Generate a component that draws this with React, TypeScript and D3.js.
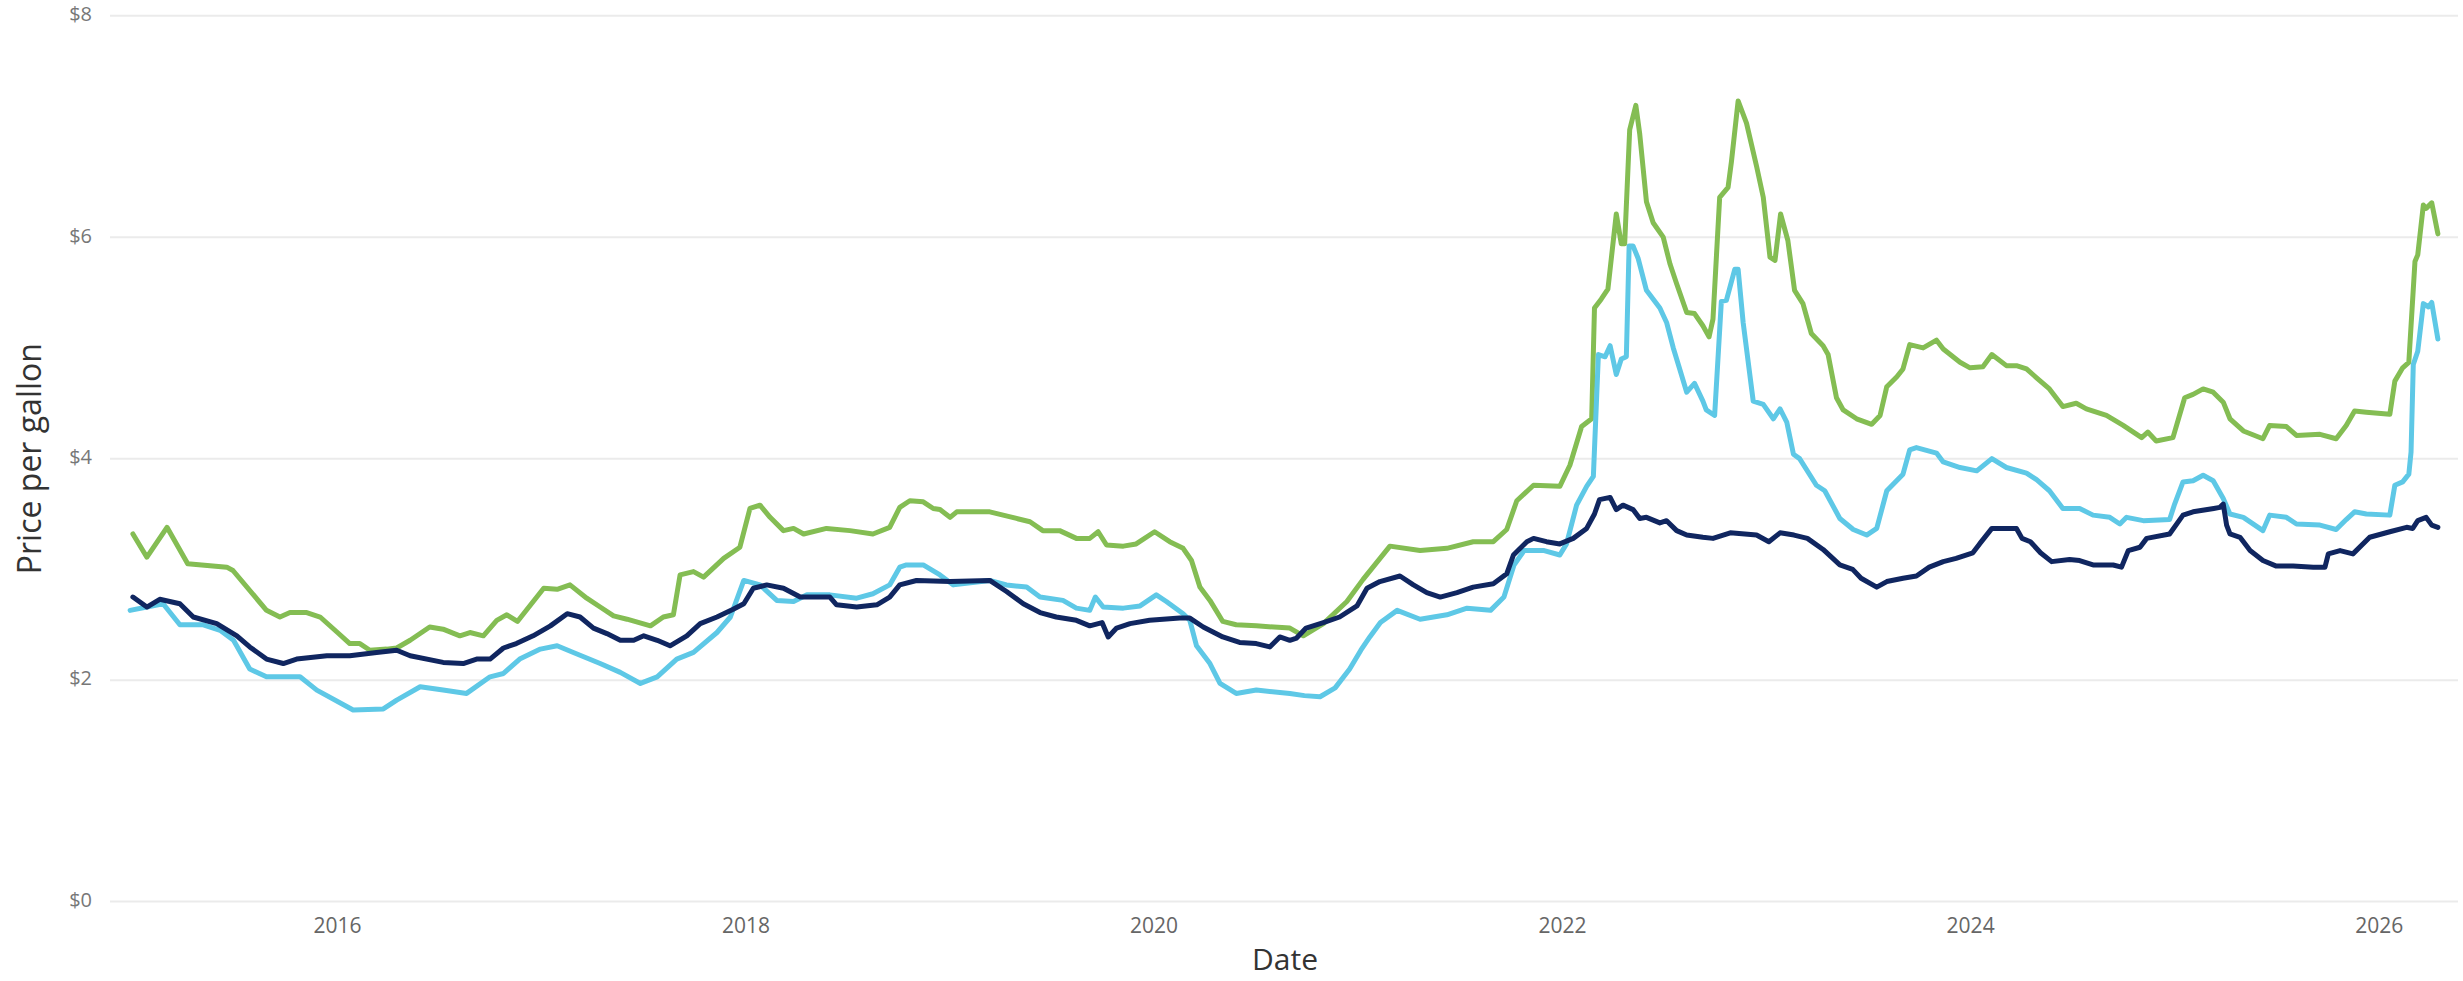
import React from "react";
import * as d3 from "d3";

const WIDTH = 2463;
const HEIGHT = 981;
const PLOT = { LEFT: 110, RIGHT: 2458, TOP: 15.7, BOTTOM: 901.6 };

// weekly price readings, [date, $/gal]
const greenPrices: [string, number][] = [
  ["2014-12-31", 3.32], ["2015-01-25", 3.11], ["2015-03-02", 3.38], ["2015-04-08", 3.05],
  ["2015-06-17", 3.02], ["2015-06-28", 2.99], ["2015-08-27", 2.63], ["2015-09-20", 2.57],
  ["2015-10-08", 2.61], ["2015-11-07", 2.61], ["2015-12-01", 2.57], ["2016-01-01", 2.43],
  ["2016-01-23", 2.33], ["2016-02-10", 2.33], ["2016-02-28", 2.27], ["2016-03-29", 2.28],
  ["2016-04-16", 2.29], ["2016-05-10", 2.36], ["2016-06-14", 2.48], ["2016-07-08", 2.46],
  ["2016-08-07", 2.40], ["2016-08-25", 2.43], ["2016-09-18", 2.40], ["2016-10-12", 2.54],
  ["2016-10-30", 2.59], ["2016-11-18", 2.53], ["2017-01-04", 2.83], ["2017-01-28", 2.82],
  ["2017-02-20", 2.86], ["2017-03-22", 2.74], ["2017-04-15", 2.66], ["2017-05-09", 2.58],
  ["2017-06-02", 2.55], ["2017-07-14", 2.49], ["2017-08-06", 2.57], ["2017-08-24", 2.59],
  ["2017-09-05", 2.95], ["2017-09-29", 2.98], ["2017-10-17", 2.93], ["2017-11-22", 3.10],
  ["2017-12-21", 3.20], ["2018-01-08", 3.55], ["2018-01-26", 3.58], ["2018-02-13", 3.47],
  ["2018-03-09", 3.35], ["2018-03-27", 3.37], ["2018-04-14", 3.32], ["2018-05-25", 3.37],
  ["2018-07-06", 3.35], ["2018-08-16", 3.32], ["2018-09-15", 3.38], ["2018-10-03", 3.56],
  ["2018-10-21", 3.62], ["2018-11-14", 3.61], ["2018-12-02", 3.55], ["2018-12-14", 3.54],
  ["2019-01-01", 3.47], ["2019-01-13", 3.52], ["2019-03-13", 3.52], ["2019-04-30", 3.46],
  ["2019-05-24", 3.43], ["2019-06-16", 3.35], ["2019-07-16", 3.35], ["2019-08-15", 3.28],
  ["2019-09-08", 3.28], ["2019-09-23", 3.34], ["2019-10-08", 3.22], ["2019-11-07", 3.21],
  ["2019-11-30", 3.23], ["2020-01-02", 3.34], ["2020-01-29", 3.25], ["2020-02-22", 3.19],
  ["2020-03-08", 3.08], ["2020-03-23", 2.84], ["2020-04-10", 2.72], ["2020-05-03", 2.53],
  ["2020-05-27", 2.50], ["2020-07-02", 2.49], ["2020-08-31", 2.47], ["2020-09-24", 2.40],
  ["2020-10-30", 2.51], ["2020-12-11", 2.71], ["2021-01-09", 2.91], ["2021-02-26", 3.21],
  ["2021-04-21", 3.17], ["2021-06-08", 3.19], ["2021-07-25", 3.25], ["2021-08-30", 3.25],
  ["2021-09-23", 3.36], ["2021-10-11", 3.62], ["2021-11-10", 3.76], ["2021-12-27", 3.75],
  ["2022-01-14", 3.94], ["2022-02-04", 4.29], ["2022-02-22", 4.36], ["2022-02-27", 5.36],
  ["2022-03-11", 5.44], ["2022-03-23", 5.53], ["2022-04-07", 6.21], ["2022-04-16", 5.94],
  ["2022-04-22", 5.94], ["2022-05-01", 6.97], ["2022-05-12", 7.19], ["2022-05-19", 6.93],
  ["2022-05-31", 6.32], ["2022-06-12", 6.13], ["2022-06-30", 6.00], ["2022-07-12", 5.76],
  ["2022-07-24", 5.58], ["2022-08-11", 5.32], ["2022-08-25", 5.31], ["2022-09-09", 5.20],
  ["2022-09-20", 5.10], ["2022-09-27", 5.26], ["2022-10-09", 6.36], ["2022-10-24", 6.45],
  ["2022-10-30", 6.68], ["2022-11-11", 7.23], ["2022-11-26", 7.03], ["2022-12-14", 6.64],
  ["2022-12-26", 6.36], ["2023-01-07", 5.82], ["2023-01-16", 5.79], ["2023-01-26", 6.21],
  ["2023-02-08", 5.97], ["2023-02-20", 5.52], ["2023-03-07", 5.40], ["2023-03-22", 5.13],
  ["2023-04-12", 5.02], ["2023-04-21", 4.94], ["2023-05-06", 4.55], ["2023-05-18", 4.44],
  ["2023-06-11", 4.36], ["2023-07-08", 4.31], ["2023-07-23", 4.39], ["2023-08-04", 4.65],
  ["2023-08-22", 4.74], ["2023-09-02", 4.81], ["2023-09-14", 5.03], ["2023-10-08", 5.00],
  ["2023-11-01", 5.07], ["2023-11-13", 4.99], ["2023-12-13", 4.87], ["2023-12-31", 4.82],
  ["2024-01-23", 4.83], ["2024-02-08", 4.94], ["2024-03-05", 4.84], ["2024-03-23", 4.84],
  ["2024-04-10", 4.81], ["2024-04-28", 4.73], ["2024-05-21", 4.63], ["2024-06-14", 4.47],
  ["2024-07-08", 4.50], ["2024-07-26", 4.45], ["2024-08-31", 4.39], ["2024-09-30", 4.30],
  ["2024-11-02", 4.19], ["2024-11-13", 4.24], ["2024-11-28", 4.16], ["2024-12-28", 4.19],
  ["2025-01-18", 4.55], ["2025-02-02", 4.58], ["2025-02-20", 4.63], ["2025-03-10", 4.60],
  ["2025-03-28", 4.51], ["2025-04-09", 4.36], ["2025-05-03", 4.25], ["2025-06-07", 4.18],
  ["2025-06-19", 4.30], ["2025-07-19", 4.29], ["2025-08-06", 4.21], ["2025-09-17", 4.22],
  ["2025-10-16", 4.18], ["2025-11-03", 4.30], ["2025-11-18", 4.43], ["2025-12-09", 4.42],
  ["2026-01-20", 4.40], ["2026-01-29", 4.70], ["2026-02-12", 4.82], ["2026-02-23", 4.87],
  ["2026-03-06", 5.78], ["2026-03-11", 5.84], ["2026-03-21", 6.29], ["2026-03-26", 6.26],
  ["2026-04-05", 6.31], ["2026-04-16", 6.03],
];

const lightBluePrices: [string, number][] = [
  ["2014-12-26", 2.63], ["2015-01-25", 2.66], ["2015-02-23", 2.69], ["2015-03-25", 2.50],
  ["2015-05-06", 2.50], ["2015-06-05", 2.45], ["2015-06-29", 2.36], ["2015-07-28", 2.10],
  ["2015-08-27", 2.03], ["2015-10-26", 2.03], ["2015-11-25", 1.91], ["2016-01-29", 1.73],
  ["2016-03-23", 1.74], ["2016-04-16", 1.82], ["2016-05-28", 1.94], ["2016-07-08", 1.91],
  ["2016-08-19", 1.88], ["2016-09-30", 2.03], ["2016-10-24", 2.06], ["2016-11-22", 2.19],
  ["2016-12-29", 2.28], ["2017-01-28", 2.31], ["2017-02-26", 2.25], ["2017-04-15", 2.15],
  ["2017-05-21", 2.07], ["2017-06-26", 1.97], ["2017-07-26", 2.03], ["2017-08-30", 2.19],
  ["2017-09-29", 2.25], ["2017-11-10", 2.43], ["2017-12-04", 2.57], ["2017-12-28", 2.90],
  ["2018-01-26", 2.86], ["2018-02-25", 2.72], ["2018-03-27", 2.71], ["2018-04-20", 2.77],
  ["2018-05-31", 2.77], ["2018-07-18", 2.74], ["2018-08-16", 2.78], ["2018-09-15", 2.86],
  ["2018-10-03", 3.02], ["2018-10-15", 3.04], ["2018-11-14", 3.04], ["2018-12-14", 2.95],
  ["2019-01-07", 2.86], ["2019-03-13", 2.90], ["2019-04-12", 2.86], ["2019-05-18", 2.84],
  ["2019-06-11", 2.75], ["2019-07-22", 2.72], ["2019-08-15", 2.65], ["2019-09-08", 2.63],
  ["2019-09-18", 2.75], ["2019-10-02", 2.66], ["2019-11-07", 2.65], ["2019-12-07", 2.67],
  ["2020-01-05", 2.77], ["2020-01-23", 2.71], ["2020-02-22", 2.60], ["2020-03-05", 2.54],
  ["2020-03-17", 2.31], ["2020-04-10", 2.15], ["2020-04-28", 1.97], ["2020-05-27", 1.88],
  ["2020-07-02", 1.91], ["2020-08-31", 1.88], ["2020-09-26", 1.86], ["2020-10-24", 1.85],
  ["2020-11-20", 1.93], ["2020-12-16", 2.10], ["2021-01-05", 2.27], ["2021-01-21", 2.39],
  ["2021-02-09", 2.52], ["2021-03-11", 2.63], ["2021-04-21", 2.55], ["2021-06-08", 2.59],
  ["2021-07-14", 2.65], ["2021-08-25", 2.63], ["2021-09-18", 2.75], ["2021-10-06", 3.04],
  ["2021-10-24", 3.17], ["2021-11-29", 3.17], ["2021-12-27", 3.13], ["2022-01-08", 3.23],
  ["2022-01-26", 3.58], ["2022-02-13", 3.75], ["2022-02-25", 3.84], ["2022-03-06", 4.94],
  ["2022-03-18", 4.92], ["2022-03-27", 5.02], ["2022-04-07", 4.76], ["2022-04-16", 4.90],
  ["2022-04-25", 4.92], ["2022-04-30", 5.92], ["2022-05-07", 5.92], ["2022-05-16", 5.81],
  ["2022-05-31", 5.52], ["2022-06-24", 5.36], ["2022-07-06", 5.23], ["2022-07-18", 5.00],
  ["2022-07-30", 4.80], ["2022-08-11", 4.60], ["2022-08-25", 4.68], ["2022-09-09", 4.52],
  ["2022-09-15", 4.44], ["2022-09-30", 4.39], ["2022-10-12", 5.42], ["2022-10-21", 5.43],
  ["2022-11-05", 5.71], ["2022-11-11", 5.71], ["2022-11-20", 5.23], ["2022-12-08", 4.52],
  ["2022-12-26", 4.49], ["2023-01-13", 4.36], ["2023-01-25", 4.45], ["2023-02-06", 4.33],
  ["2023-02-18", 4.04], ["2023-03-01", 4.00], ["2023-03-31", 3.76], ["2023-04-15", 3.71],
  ["2023-05-12", 3.46], ["2023-06-05", 3.36], ["2023-06-29", 3.31], ["2023-07-17", 3.37],
  ["2023-08-04", 3.71], ["2023-09-02", 3.86], ["2023-09-14", 4.08], ["2023-09-26", 4.10],
  ["2023-11-01", 4.05], ["2023-11-13", 3.97], ["2023-12-13", 3.92], ["2024-01-12", 3.89],
  ["2024-02-08", 4.00], ["2024-03-05", 3.92], ["2024-04-10", 3.87], ["2024-04-28", 3.81],
  ["2024-05-21", 3.71], ["2024-06-14", 3.55], ["2024-07-14", 3.55], ["2024-08-07", 3.49],
  ["2024-09-06", 3.47], ["2024-09-24", 3.41], ["2024-10-06", 3.47], ["2024-11-05", 3.44],
  ["2024-12-22", 3.45], ["2024-12-31", 3.59], ["2025-01-15", 3.79], ["2025-02-02", 3.80],
  ["2025-02-20", 3.85], ["2025-03-10", 3.80], ["2025-03-28", 3.64], ["2025-04-09", 3.50],
  ["2025-05-03", 3.47], ["2025-06-07", 3.35], ["2025-06-19", 3.49], ["2025-07-19", 3.47],
  ["2025-08-06", 3.41], ["2025-09-17", 3.40], ["2025-10-16", 3.36], ["2025-11-03", 3.45],
  ["2025-11-18", 3.52], ["2025-12-09", 3.50], ["2026-01-20", 3.49], ["2026-01-29", 3.76],
  ["2026-02-12", 3.79], ["2026-02-23", 3.86], ["2026-02-27", 4.06], ["2026-03-03", 4.85],
  ["2026-03-11", 4.97], ["2026-03-21", 5.40], ["2026-03-30", 5.37], ["2026-04-05", 5.41],
  ["2026-04-16", 5.08],
];

const navyPrices: [string, number][] = [
  ["2014-12-31", 2.75], ["2015-01-25", 2.66], ["2015-02-17", 2.73], ["2015-03-25", 2.69],
  ["2015-04-18", 2.57], ["2015-05-30", 2.51], ["2015-07-05", 2.40], ["2015-07-28", 2.30],
  ["2015-08-27", 2.19], ["2015-09-26", 2.15], ["2015-10-20", 2.19], ["2015-12-13", 2.22],
  ["2016-01-23", 2.22], ["2016-03-11", 2.25], ["2016-04-16", 2.27], ["2016-05-10", 2.22],
  ["2016-07-08", 2.16], ["2016-08-13", 2.15], ["2016-09-06", 2.19], ["2016-09-30", 2.19],
  ["2016-10-24", 2.29], ["2016-11-16", 2.33], ["2016-12-16", 2.40], ["2017-01-16", 2.49],
  ["2017-02-15", 2.60], ["2017-03-10", 2.57], ["2017-04-03", 2.47], ["2017-04-27", 2.42],
  ["2017-05-21", 2.36], ["2017-06-14", 2.36], ["2017-07-02", 2.40], ["2017-07-26", 2.36],
  ["2017-08-18", 2.31], ["2017-09-17", 2.40], ["2017-10-11", 2.51], ["2017-11-10", 2.57],
  ["2017-12-09", 2.64], ["2017-12-28", 2.69], ["2018-01-14", 2.83], ["2018-02-07", 2.86],
  ["2018-03-09", 2.83], ["2018-04-08", 2.75], ["2018-05-31", 2.75], ["2018-06-12", 2.68],
  ["2018-07-18", 2.66], ["2018-08-23", 2.68], ["2018-09-15", 2.75], ["2018-10-03", 2.86],
  ["2018-11-02", 2.90], ["2019-01-01", 2.89], ["2019-03-13", 2.90], ["2019-04-12", 2.80],
  ["2019-05-12", 2.69], ["2019-06-11", 2.61], ["2019-07-10", 2.57], ["2019-08-15", 2.54],
  ["2019-09-08", 2.49], ["2019-09-30", 2.52], ["2019-10-11", 2.39], ["2019-10-26", 2.47],
  ["2019-11-19", 2.51], ["2019-12-24", 2.54], ["2020-02-16", 2.56], ["2020-03-05", 2.56],
  ["2020-03-29", 2.48], ["2020-05-03", 2.39], ["2020-06-02", 2.34], ["2020-07-02", 2.33],
  ["2020-07-26", 2.30], ["2020-08-13", 2.39], ["2020-08-31", 2.36], ["2020-09-12", 2.38],
  ["2020-09-29", 2.47], ["2020-10-30", 2.52], ["2020-11-28", 2.57], ["2020-12-29", 2.67],
  ["2021-01-16", 2.83], ["2021-02-08", 2.89], ["2021-03-16", 2.94], ["2021-04-09", 2.86],
  ["2021-05-03", 2.79], ["2021-05-27", 2.75], ["2021-06-26", 2.79], ["2021-07-25", 2.84],
  ["2021-08-30", 2.87], ["2021-09-23", 2.96], ["2021-10-05", 3.13], ["2021-10-29", 3.25],
  ["2021-11-10", 3.28], ["2021-12-03", 3.25], ["2021-12-27", 3.23], ["2022-01-20", 3.28],
  ["2022-02-13", 3.37], ["2022-02-27", 3.50], ["2022-03-08", 3.63], ["2022-03-27", 3.65],
  ["2022-04-07", 3.54], ["2022-04-19", 3.58], ["2022-05-07", 3.54], ["2022-05-19", 3.46],
  ["2022-05-31", 3.47], ["2022-06-24", 3.42], ["2022-07-06", 3.44], ["2022-07-24", 3.35],
  ["2022-08-11", 3.31], ["2022-09-09", 3.29], ["2022-09-27", 3.28], ["2022-10-28", 3.33],
  ["2022-12-14", 3.31], ["2023-01-05", 3.25], ["2023-01-25", 3.33], ["2023-02-19", 3.31],
  ["2023-03-15", 3.28], ["2023-04-12", 3.18], ["2023-05-12", 3.04], ["2023-06-04", 3.00],
  ["2023-06-19", 2.92], ["2023-07-17", 2.84], ["2023-08-04", 2.89], ["2023-09-02", 2.92],
  ["2023-09-26", 2.94], ["2023-10-19", 3.02], ["2023-11-13", 3.07], ["2023-12-06", 3.10],
  ["2024-01-05", 3.15], ["2024-01-17", 3.23], ["2024-02-08", 3.37], ["2024-03-23", 3.37],
  ["2024-04-02", 3.28], ["2024-04-17", 3.25], ["2024-05-05", 3.15], ["2024-05-25", 3.07],
  ["2024-06-26", 3.09], ["2024-07-14", 3.08], ["2024-08-07", 3.04], ["2024-09-12", 3.04],
  ["2024-09-27", 3.02], ["2024-10-09", 3.17], ["2024-10-30", 3.20], ["2024-11-11", 3.28],
  ["2024-12-22", 3.32], ["2025-01-15", 3.49], ["2025-02-02", 3.52], ["2025-03-11", 3.55],
  ["2025-03-22", 3.56], ["2025-03-28", 3.59], ["2025-04-03", 3.40], ["2025-04-09", 3.32],
  ["2025-04-27", 3.29], ["2025-05-15", 3.17], ["2025-06-07", 3.08], ["2025-07-01", 3.03],
  ["2025-07-31", 3.03], ["2025-09-05", 3.02], ["2025-09-26", 3.02], ["2025-10-02", 3.14],
  ["2025-10-23", 3.17], ["2025-11-15", 3.14], ["2025-12-15", 3.29], ["2026-01-20", 3.34],
  ["2026-02-19", 3.38], ["2026-03-02", 3.37], ["2026-03-11", 3.44], ["2026-03-26", 3.47],
  ["2026-04-05", 3.40], ["2026-04-16", 3.38],
];

const yTicks = [0, 2, 4, 6, 8];
const xTickYears = [2016, 2018, 2020, 2022, 2024, 2026];

const SERIES = [
  { key: "green", data: greenPrices, color: "#84bd53" },
  { key: "lightBlue", data: lightBluePrices, color: "#5ec8e6" },
  { key: "navy", data: navyPrices, color: "#102660" },
];

const FONT = "'Segoe UI', 'Open Sans', sans-serif";

const App: React.FC = () => {
  const parse = d3.utcParse("%Y-%m-%d");

  const xScale = d3
    .scaleUtc()
    .domain([new Date(Date.UTC(2014, 10, 20)), new Date(Date.UTC(2026, 4, 22))])
    .range([PLOT.LEFT, PLOT.RIGHT]);

  const yScale = d3.scaleLinear().domain([0, 8]).range([PLOT.BOTTOM, PLOT.TOP]);

  const line = d3
    .line<[string, number]>()
    .x((d) => xScale(parse(d[0]) as Date))
    .y((d) => yScale(d[1]))
    .curve(d3.curveLinear);

  return (
    <div style={{ position: "absolute", left: 0, top: 0 }}>
      <svg width={WIDTH} height={HEIGHT} style={{ display: "block", background: "#fff" }}>
        {yTicks.map((t) => (
          <g key={t}>
            <line
              x1={PLOT.LEFT}
              x2={PLOT.RIGHT}
              y1={yScale(t)}
              y2={yScale(t)}
              stroke="#ebebeb"
              strokeWidth={2}
            />
            <text
              x={92}
              y={yScale(t)}
              textAnchor="end"
              dominantBaseline="middle"
              fontFamily={FONT}
              fontSize={20}
              fill="#777"
            >
              {`$${t}`}
            </text>
          </g>
        ))}

        {xTickYears.map((yr) => (
          <text
            key={yr}
            x={xScale(new Date(Date.UTC(yr, 0, 1)))}
            y={927}
            textAnchor="middle"
            dominantBaseline="middle"
            fontFamily={FONT}
            fontSize={21}
            fill="#666"
          >
            {yr}
          </text>
        ))}

        {SERIES.map((s) => (
          <path
            key={s.key}
            d={line(s.data) ?? ""}
            fill="none"
            stroke={s.color}
            strokeWidth={5}
            strokeLinejoin="round"
            strokeLinecap="round"
          />
        ))}

        <text
          transform={`translate(41, ${(PLOT.TOP + PLOT.BOTTOM) / 2}) rotate(-90)`}
          textAnchor="middle"
          fontFamily={FONT}
          fontSize={32}
          fill="#333"
        >
          Price per gallon
        </text>
        <text
          x={1285}
          y={970}
          textAnchor="middle"
          fontFamily={FONT}
          fontSize={30}
          fill="#333"
        >
          Date
        </text>
      </svg>
    </div>
  );
};

export default App;
